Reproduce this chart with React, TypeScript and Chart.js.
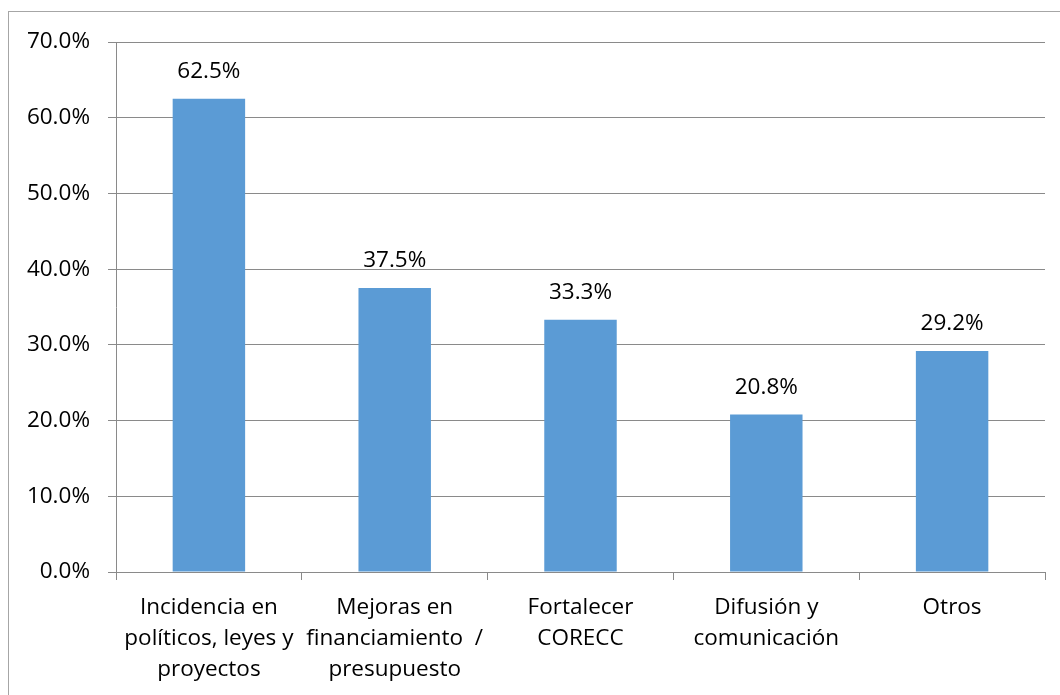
import React, { useEffect, useRef } from "react";
import { Chart, registerables } from "chart.js";

Chart.register(...registerables);

const categories: string[][] = [
  ["Incidencia en", "políticos, leyes y", "proyectos"],
  ["Mejoras en", "financiamiento  /", "presupuesto"],
  ["Fortalecer", "CORECC"],
  ["Difusión y", "comunicación"],
  ["Otros"],
];
const values: number[] = [62.5, 37.5, 33.3, 20.8, 29.2];
const yMin = 0;
const yMax = 70;
const yStep = 10;

const FONT = "'Open Sans', sans-serif";
const FONT_SIZE = 22.5;
const GRID = "#8a8a8a";

const valueLabels = {
  id: "valueLabels",
  afterDatasetsDraw(chart: any) {
    const ctx = chart.ctx;
    const meta = chart.getDatasetMeta(0);
    ctx.save();
    ctx.font = `${FONT_SIZE}px ${FONT}`;
    ctx.fillStyle = "#000";
    ctx.textAlign = "center";
    ctx.textBaseline = "middle";
    meta.data.forEach((el: any, i: number) => {
      ctx.fillText(`${values[i].toFixed(1)}%`, el.x, el.y - 27);
    });
    ctx.restore();
  },
};

export default function App() {
  const ref = useRef<HTMLCanvasElement>(null);
  useEffect(() => {
    if (!ref.current) return;
    const chart = new Chart(ref.current, {
      type: "bar",
      data: {
        labels: categories,
        datasets: [
          {
            data: values,
            backgroundColor: "#5b9bd5",
            borderWidth: 0,
            barPercentage: 0.39,
            categoryPercentage: 1,
          },
        ],
      },
      options: {
        responsive: false,
        animation: false,
        events: [],
        layout: { padding: { top: 42, left: 0, right: 15, bottom: 0 } },
        plugins: { legend: { display: false }, tooltip: { enabled: false }, title: { display: false } },
        scales: {
          x: {
            offset: true,
            grid: {
              offset: true,
              drawOnChartArea: false,
              drawTicks: true,
              tickLength: 8,
              color: GRID,
            },
            border: { display: true, color: GRID, width: 1 },
            ticks: {
              autoSkip: false,
              maxRotation: 0,
              minRotation: 0,
              padding: 12,
              color: "#000",
              font: { family: FONT, size: FONT_SIZE, lineHeight: 31 / FONT_SIZE },
            },
            afterFit: (scale: any) => {
              scale.height = 123;
            },
          },
          y: {
            min: yMin,
            max: yMax,
            grid: { color: GRID, drawTicks: true, tickLength: 8 },
            border: { display: true, color: GRID, width: 1 },
            ticks: {
              stepSize: yStep,
              padding: 18,
              color: "#000",
              font: { family: FONT, size: FONT_SIZE },
              callback: (v: any) => `${Number(v).toFixed(1)}%`,
            },
            afterFit: (scale: any) => {
              scale.width = 116;
            },
          },
        },
      },
      plugins: [valueLabels],
    });
    return () => chart.destroy();
  }, []);

  return (
    <div style={{ position: "fixed", left: 0, top: 0, width: 1060, height: 695, overflow: "hidden", background: "#fff" }}>
      <div
        style={{
          position: "absolute",
          left: 8,
          top: 11,
          width: 1200,
          height: 800,
          border: "1px solid #a6a6a6",
        }}
      />
      <canvas ref={ref} width={1060} height={695} style={{ position: "absolute", left: 0, top: 0 }} />
    </div>
  );
}
